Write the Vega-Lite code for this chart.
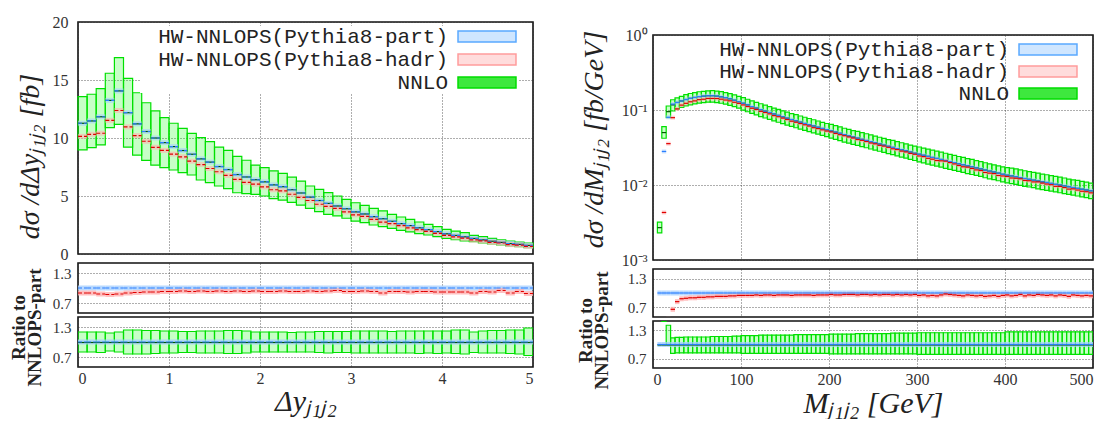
{
"$schema":"https://vega.github.io/schema/vega-lite/v6.json",
"padding":{"left":8,"top":13,"right":4,"bottom":0},
"autosize":{"type":"pad"},
"background":"white",
"config":{
 "view":{"stroke":"#111","strokeWidth":1.6},
 "axis":{"gridColor":"#333","gridDash":[1,2],"gridWidth":0.8,"labelFont":"Liberation Serif","labelFontSize":16,"labelColor":"#333","labelSeparation":-8,"titleFont":"Liberation Serif","titleFontStyle":"italic","titleFontWeight":"normal","titleFontSize":28,"titleColor":"#222","ticks":false,"domain":false}
},
"datasets":{
"leg":[{"s":"HW-NNLOPS(Pythia8-part)"},{"s":"HW-NNLOPS(Pythia8-hadr)"},{"s":"NNLO"}],
"L":[
{"x0":0,"x1":0.1,"lo":8.97,"hi":13.56,"p":11.27,"c":11.27,"h":10.14,"rh":0.9,"rlo":0.8,"rhi":1.2},
{"x0":0.1,"x1":0.2,"lo":9.17,"hi":13.77,"p":11.47,"c":11.47,"h":10.32,"rh":0.9,"rlo":0.8,"rhi":1.2},
{"x0":0.2,"x1":0.3,"lo":9.4,"hi":14.25,"p":11.83,"c":11.83,"h":10.41,"rh":0.88,"rlo":0.79,"rhi":1.2},
{"x0":0.3,"x1":0.4,"lo":10.89,"hi":15.58,"p":13.24,"c":13.24,"h":11.52,"rh":0.87,"rlo":0.82,"rhi":1.18},
{"x0":0.4,"x1":0.5,"lo":11.18,"hi":16.93,"p":14.06,"c":14.06,"h":12.37,"rh":0.88,"rlo":0.8,"rhi":1.2},
{"x0":0.5,"x1":0.6,"lo":9.22,"hi":15.14,"p":12.18,"c":12.18,"h":10.96,"rh":0.9,"rlo":0.76,"rhi":1.24},
{"x0":0.6,"x1":0.7,"lo":8.53,"hi":13.9,"p":11.22,"c":11.22,"h":10.21,"rh":0.91,"rlo":0.76,"rhi":1.24},
{"x0":0.7,"x1":0.8,"lo":8.07,"hi":13.04,"p":10.56,"c":10.56,"h":9.72,"rh":0.92,"rlo":0.76,"rhi":1.23},
{"x0":0.8,"x1":0.9,"lo":7.67,"hi":12.33,"p":10.0,"c":10.0,"h":9.2,"rh":0.92,"rlo":0.77,"rhi":1.23},
{"x0":0.9,"x1":1.0,"lo":7.44,"hi":11.75,"p":9.6,"c":9.6,"h":8.93,"rh":0.93,"rlo":0.78,"rhi":1.22},
{"x0":1.0,"x1":1.1,"lo":7.24,"hi":11.27,"p":9.26,"c":9.26,"h":8.61,"rh":0.93,"rlo":0.78,"rhi":1.22},
{"x0":1.1,"x1":1.2,"lo":7.01,"hi":10.83,"p":8.92,"c":8.92,"h":8.38,"rh":0.94,"rlo":0.79,"rhi":1.21},
{"x0":1.2,"x1":1.3,"lo":6.81,"hi":10.4,"p":8.6,"c":8.6,"h":8.0,"rh":0.93,"rlo":0.79,"rhi":1.21},
{"x0":1.3,"x1":1.4,"lo":6.38,"hi":10.03,"p":8.2,"c":8.2,"h":7.71,"rh":0.94,"rlo":0.78,"rhi":1.22},
{"x0":1.4,"x1":1.5,"lo":6.15,"hi":9.68,"p":7.92,"c":7.92,"h":7.37,"rh":0.93,"rlo":0.78,"rhi":1.22},
{"x0":1.5,"x1":1.6,"lo":5.86,"hi":9.22,"p":7.54,"c":7.54,"h":7.09,"rh":0.94,"rlo":0.78,"rhi":1.22},
{"x0":1.6,"x1":1.7,"lo":5.63,"hi":8.94,"p":7.28,"c":7.28,"h":6.77,"rh":0.93,"rlo":0.77,"rhi":1.23},
{"x0":1.7,"x1":1.8,"lo":5.28,"hi":8.42,"p":6.85,"c":6.85,"h":6.44,"rh":0.94,"rlo":0.77,"rhi":1.23},
{"x0":1.8,"x1":1.9,"lo":5.2,"hi":8.08,"p":6.64,"c":6.64,"h":6.18,"rh":0.93,"rlo":0.78,"rhi":1.22},
{"x0":1.9,"x1":2.0,"lo":5.14,"hi":7.67,"p":6.4,"c":6.4,"h":6.02,"rh":0.94,"rlo":0.8,"rhi":1.2},
{"x0":2.0,"x1":2.1,"lo":5.0,"hi":7.44,"p":6.22,"c":6.22,"h":5.78,"rh":0.93,"rlo":0.8,"rhi":1.2},
{"x0":2.1,"x1":2.2,"lo":4.77,"hi":7.16,"p":5.96,"c":5.96,"h":5.54,"rh":0.93,"rlo":0.8,"rhi":1.2},
{"x0":2.2,"x1":2.3,"lo":4.65,"hi":6.95,"p":5.8,"c":5.8,"h":5.45,"rh":0.94,"rlo":0.8,"rhi":1.2},
{"x0":2.3,"x1":2.4,"lo":4.45,"hi":6.62,"p":5.54,"c":5.54,"h":5.15,"rh":0.93,"rlo":0.8,"rhi":1.19},
{"x0":2.4,"x1":2.5,"lo":4.22,"hi":6.29,"p":5.26,"c":5.26,"h":4.89,"rh":0.93,"rlo":0.8,"rhi":1.2},
{"x0":2.5,"x1":2.6,"lo":3.94,"hi":5.86,"p":4.9,"c":4.9,"h":4.61,"rh":0.94,"rlo":0.8,"rhi":1.2},
{"x0":2.6,"x1":2.7,"lo":3.65,"hi":5.57,"p":4.61,"c":4.61,"h":4.29,"rh":0.93,"rlo":0.79,"rhi":1.21},
{"x0":2.7,"x1":2.8,"lo":3.42,"hi":5.29,"p":4.36,"c":4.36,"h":4.1,"rh":0.94,"rlo":0.78,"rhi":1.21},
{"x0":2.8,"x1":2.9,"lo":3.28,"hi":5.0,"p":4.14,"c":4.14,"h":3.93,"rh":0.95,"rlo":0.79,"rhi":1.21},
{"x0":2.9,"x1":3.0,"lo":3.08,"hi":4.71,"p":3.9,"c":3.9,"h":3.63,"rh":0.93,"rlo":0.79,"rhi":1.21},
{"x0":3.0,"x1":3.1,"lo":2.84,"hi":4.42,"p":3.63,"c":3.63,"h":3.38,"rh":0.93,"rlo":0.78,"rhi":1.22},
{"x0":3.1,"x1":3.2,"lo":2.7,"hi":4.2,"p":3.45,"c":3.45,"h":3.24,"rh":0.94,"rlo":0.78,"rhi":1.22},
{"x0":3.2,"x1":3.3,"lo":2.5,"hi":3.94,"p":3.22,"c":3.22,"h":2.99,"rh":0.93,"rlo":0.78,"rhi":1.22},
{"x0":3.3,"x1":3.4,"lo":2.36,"hi":3.71,"p":3.04,"c":3.04,"h":2.74,"rh":0.9,"rlo":0.78,"rhi":1.22},
{"x0":3.4,"x1":3.5,"lo":2.21,"hi":3.42,"p":2.82,"c":2.82,"h":2.62,"rh":0.93,"rlo":0.78,"rhi":1.21},
{"x0":3.5,"x1":3.6,"lo":2.04,"hi":3.19,"p":2.62,"c":2.62,"h":2.44,"rh":0.93,"rlo":0.78,"rhi":1.22},
{"x0":3.6,"x1":3.7,"lo":1.9,"hi":2.99,"p":2.45,"c":2.45,"h":2.25,"rh":0.92,"rlo":0.78,"rhi":1.22},
{"x0":3.7,"x1":3.8,"lo":1.75,"hi":2.76,"p":2.26,"c":2.26,"h":2.1,"rh":0.93,"rlo":0.77,"rhi":1.22},
{"x0":3.8,"x1":3.9,"lo":1.64,"hi":2.56,"p":2.1,"c":2.1,"h":1.95,"rh":0.93,"rlo":0.78,"rhi":1.22},
{"x0":3.9,"x1":4.0,"lo":1.49,"hi":2.36,"p":1.93,"c":1.93,"h":1.78,"rh":0.92,"rlo":0.77,"rhi":1.22},
{"x0":4.0,"x1":4.1,"lo":1.35,"hi":2.13,"p":1.74,"c":1.74,"h":1.6,"rh":0.92,"rlo":0.78,"rhi":1.22},
{"x0":4.1,"x1":4.2,"lo":1.23,"hi":1.98,"p":1.6,"c":1.6,"h":1.47,"rh":0.92,"rlo":0.77,"rhi":1.24},
{"x0":4.2,"x1":4.3,"lo":1.12,"hi":1.84,"p":1.48,"c":1.48,"h":1.36,"rh":0.92,"rlo":0.76,"rhi":1.24},
{"x0":4.3,"x1":4.4,"lo":1.06,"hi":1.61,"p":1.34,"c":1.34,"h":1.21,"rh":0.9,"rlo":0.79,"rhi":1.2},
{"x0":4.4,"x1":4.5,"lo":0.95,"hi":1.49,"p":1.22,"c":1.22,"h":1.13,"rh":0.93,"rlo":0.78,"rhi":1.22},
{"x0":4.5,"x1":4.6,"lo":0.86,"hi":1.35,"p":1.1,"c":1.1,"h":1.01,"rh":0.92,"rlo":0.78,"rhi":1.23},
{"x0":4.6,"x1":4.7,"lo":0.78,"hi":1.23,"p":1.0,"c":1.0,"h":0.95,"rh":0.95,"rlo":0.78,"rhi":1.23},
{"x0":4.7,"x1":4.8,"lo":0.69,"hi":1.12,"p":0.9,"c":0.9,"h":0.81,"rh":0.9,"rlo":0.77,"rhi":1.24},
{"x0":4.8,"x1":4.9,"lo":0.63,"hi":1.03,"p":0.83,"c":0.83,"h":0.77,"rh":0.93,"rlo":0.76,"rhi":1.24},
{"x0":4.9,"x1":5.0,"lo":0.54,"hi":0.95,"p":0.74,"c":0.74,"h":0.66,"rh":0.89,"rlo":0.73,"rhi":1.28}
],
"R":[
{"x0":5,"x1":10,"p":0.0008,"c":0.0027,"lo":0.0023,"hi":0.0032},
{"x0":10,"x1":15,"p":0.028,"c":0.05,"h":0.0043,"lo":0.042,"hi":0.06,"rh":0.15,"rlo":1.49,"rhi":2.1},
{"x0":15,"x1":20,"p":0.08,"c":0.095,"h":0.0356,"lo":0.079,"hi":0.113,"rh":0.45,"rlo":0.99,"rhi":1.41},
{"x0":20,"x1":25,"p":0.12,"c":0.117,"h":0.079,"lo":0.097,"hi":0.137,"rh":0.66,"rlo":0.81,"rhi":1.14},
{"x0":25,"x1":30,"p":0.126,"c":0.126,"h":0.1033,"lo":0.1033,"hi":0.1449,"rh":0.82,"rlo":0.82,"rhi":1.15},
{"x0":30,"x1":35,"p":0.132,"c":0.132,"h":0.1162,"lo":0.1082,"hi":0.1518,"rh":0.88,"rlo":0.82,"rhi":1.15},
{"x0":35,"x1":40,"p":0.138,"c":0.138,"h":0.1228,"lo":0.1132,"hi":0.1601,"rh":0.89,"rlo":0.82,"rhi":1.16},
{"x0":40,"x1":45,"p":0.143,"c":0.143,"h":0.1287,"lo":0.1173,"hi":0.1659,"rh":0.9,"rlo":0.82,"rhi":1.16},
{"x0":45,"x1":50,"p":0.147,"c":0.147,"h":0.1323,"lo":0.1205,"hi":0.1705,"rh":0.9,"rlo":0.82,"rhi":1.16},
{"x0":50,"x1":55,"p":0.151,"c":0.151,"h":0.1374,"lo":0.1238,"hi":0.1752,"rh":0.91,"rlo":0.82,"rhi":1.16},
{"x0":55,"x1":60,"p":0.153,"c":0.153,"h":0.1392,"lo":0.1255,"hi":0.1775,"rh":0.91,"rlo":0.82,"rhi":1.16},
{"x0":60,"x1":65,"p":0.155,"c":0.155,"h":0.1426,"lo":0.1271,"hi":0.1798,"rh":0.92,"rlo":0.82,"rhi":1.16},
{"x0":65,"x1":70,"p":0.155,"c":0.155,"h":0.1426,"lo":0.1271,"hi":0.1814,"rh":0.92,"rlo":0.82,"rhi":1.17},
{"x0":70,"x1":75,"p":0.153,"c":0.153,"h":0.1423,"lo":0.1255,"hi":0.179,"rh":0.93,"rlo":0.82,"rhi":1.17},
{"x0":75,"x1":80,"p":0.15,"c":0.15,"h":0.1395,"lo":0.123,"hi":0.1755,"rh":0.93,"rlo":0.82,"rhi":1.17},
{"x0":80,"x1":85,"p":0.146,"c":0.146,"h":0.1358,"lo":0.1197,"hi":0.1708,"rh":0.93,"rlo":0.82,"rhi":1.17},
{"x0":85,"x1":90,"p":0.141,"c":0.141,"h":0.1325,"lo":0.1156,"hi":0.165,"rh":0.94,"rlo":0.82,"rhi":1.17},
{"x0":90,"x1":95,"p":0.135,"c":0.135,"h":0.1269,"lo":0.1107,"hi":0.1593,"rh":0.94,"rlo":0.82,"rhi":1.18},
{"x0":95,"x1":100,"p":0.129,"c":0.129,"h":0.1226,"lo":0.1058,"hi":0.1522,"rh":0.95,"rlo":0.82,"rhi":1.18},
{"x0":100,"x1":105,"p":0.123,"c":0.123,"h":0.1169,"lo":0.0996,"hi":0.1464,"rh":0.95,"rlo":0.81,"rhi":1.19},
{"x0":105,"x1":110,"p":0.117,"c":0.117,"h":0.1112,"lo":0.0948,"hi":0.1392,"rh":0.95,"rlo":0.81,"rhi":1.19},
{"x0":110,"x1":115,"p":0.111,"c":0.111,"h":0.1055,"lo":0.0899,"hi":0.1321,"rh":0.95,"rlo":0.81,"rhi":1.19},
{"x0":115,"x1":120,"p":0.106,"c":0.106,"h":0.1018,"lo":0.0859,"hi":0.1261,"rh":0.96,"rlo":0.81,"rhi":1.19},
{"x0":120,"x1":125,"p":0.101,"c":0.101,"h":0.096,"lo":0.0818,"hi":0.1212,"rh":0.95,"rlo":0.81,"rhi":1.2},
{"x0":125,"x1":130,"p":0.0965,"c":0.0965,"h":0.0926,"lo":0.0782,"hi":0.1158,"rh":0.96,"rlo":0.81,"rhi":1.2},
{"x0":130,"x1":135,"p":0.0925,"c":0.0925,"h":0.0888,"lo":0.0749,"hi":0.111,"rh":0.96,"rlo":0.81,"rhi":1.2},
{"x0":135,"x1":140,"p":0.0885,"c":0.0885,"h":0.0841,"lo":0.0717,"hi":0.1062,"rh":0.95,"rlo":0.81,"rhi":1.2},
{"x0":140,"x1":145,"p":0.0848,"c":0.0848,"h":0.0814,"lo":0.0687,"hi":0.1018,"rh":0.96,"rlo":0.81,"rhi":1.2},
{"x0":145,"x1":150,"p":0.0812,"c":0.0812,"h":0.078,"lo":0.0658,"hi":0.0974,"rh":0.96,"rlo":0.81,"rhi":1.2},
{"x0":150,"x1":155,"p":0.0778,"c":0.0778,"h":0.0747,"lo":0.063,"hi":0.0934,"rh":0.96,"rlo":0.81,"rhi":1.2},
{"x0":155,"x1":160,"p":0.0746,"c":0.0746,"h":0.0709,"lo":0.0604,"hi":0.0895,"rh":0.95,"rlo":0.81,"rhi":1.2},
{"x0":160,"x1":165,"p":0.0716,"c":0.0716,"h":0.0687,"lo":0.058,"hi":0.0866,"rh":0.96,"rlo":0.81,"rhi":1.21},
{"x0":165,"x1":170,"p":0.0688,"c":0.0688,"h":0.066,"lo":0.0557,"hi":0.0832,"rh":0.96,"rlo":0.81,"rhi":1.21},
{"x0":170,"x1":175,"p":0.0661,"c":0.0661,"h":0.0635,"lo":0.0535,"hi":0.08,"rh":0.96,"rlo":0.81,"rhi":1.21},
{"x0":175,"x1":180,"p":0.0636,"c":0.0636,"h":0.0611,"lo":0.0515,"hi":0.077,"rh":0.96,"rlo":0.81,"rhi":1.21},
{"x0":180,"x1":185,"p":0.0612,"c":0.0612,"h":0.0581,"lo":0.0496,"hi":0.0741,"rh":0.95,"rlo":0.81,"rhi":1.21},
{"x0":185,"x1":190,"p":0.0589,"c":0.0589,"h":0.0565,"lo":0.0477,"hi":0.0713,"rh":0.96,"rlo":0.81,"rhi":1.21},
{"x0":190,"x1":195,"p":0.0567,"c":0.0567,"h":0.0544,"lo":0.0459,"hi":0.0686,"rh":0.96,"rlo":0.81,"rhi":1.21},
{"x0":195,"x1":200,"p":0.0546,"c":0.0546,"h":0.0524,"lo":0.0442,"hi":0.0661,"rh":0.96,"rlo":0.81,"rhi":1.21},
{"x0":200,"x1":205,"p":0.0526,"c":0.0526,"h":0.051,"lo":0.0421,"hi":0.0642,"rh":0.97,"rlo":0.8,"rhi":1.22},
{"x0":205,"x1":210,"p":0.0507,"c":0.0507,"h":0.0487,"lo":0.0406,"hi":0.0619,"rh":0.96,"rlo":0.8,"rhi":1.22},
{"x0":210,"x1":215,"p":0.0489,"c":0.0489,"h":0.0469,"lo":0.0391,"hi":0.0597,"rh":0.96,"rlo":0.8,"rhi":1.22},
{"x0":215,"x1":220,"p":0.0468,"c":0.0468,"h":0.0454,"lo":0.0374,"hi":0.0571,"rh":0.97,"rlo":0.8,"rhi":1.22},
{"x0":220,"x1":225,"p":0.0451,"c":0.0451,"h":0.0437,"lo":0.0361,"hi":0.055,"rh":0.97,"rlo":0.8,"rhi":1.22},
{"x0":225,"x1":230,"p":0.0436,"c":0.0436,"h":0.0423,"lo":0.0349,"hi":0.0532,"rh":0.97,"rlo":0.8,"rhi":1.22},
{"x0":230,"x1":235,"p":0.0421,"c":0.0421,"h":0.0404,"lo":0.0337,"hi":0.0518,"rh":0.96,"rlo":0.8,"rhi":1.23},
{"x0":235,"x1":240,"p":0.0406,"c":0.0406,"h":0.0394,"lo":0.0325,"hi":0.0499,"rh":0.97,"rlo":0.8,"rhi":1.23},
{"x0":240,"x1":245,"p":0.0392,"c":0.0392,"h":0.038,"lo":0.0314,"hi":0.0482,"rh":0.97,"rlo":0.8,"rhi":1.23},
{"x0":245,"x1":250,"p":0.0378,"c":0.0378,"h":0.0363,"lo":0.0302,"hi":0.0465,"rh":0.96,"rlo":0.8,"rhi":1.23},
{"x0":250,"x1":255,"p":0.0365,"c":0.0365,"h":0.0354,"lo":0.0292,"hi":0.0449,"rh":0.97,"rlo":0.8,"rhi":1.23},
{"x0":255,"x1":260,"p":0.0352,"c":0.0352,"h":0.0338,"lo":0.0282,"hi":0.0433,"rh":0.96,"rlo":0.8,"rhi":1.23},
{"x0":260,"x1":265,"p":0.034,"c":0.034,"h":0.033,"lo":0.0272,"hi":0.0418,"rh":0.97,"rlo":0.8,"rhi":1.23},
{"x0":265,"x1":270,"p":0.0328,"c":0.0328,"h":0.0318,"lo":0.0262,"hi":0.0403,"rh":0.97,"rlo":0.8,"rhi":1.23},
{"x0":270,"x1":275,"p":0.0317,"c":0.0317,"h":0.0304,"lo":0.0254,"hi":0.0393,"rh":0.96,"rlo":0.8,"rhi":1.24},
{"x0":275,"x1":280,"p":0.0306,"c":0.0306,"h":0.0297,"lo":0.0245,"hi":0.0379,"rh":0.97,"rlo":0.8,"rhi":1.24},
{"x0":280,"x1":285,"p":0.0295,"c":0.0295,"h":0.0283,"lo":0.0236,"hi":0.0366,"rh":0.96,"rlo":0.8,"rhi":1.24},
{"x0":285,"x1":290,"p":0.0285,"c":0.0285,"h":0.0276,"lo":0.0228,"hi":0.0353,"rh":0.97,"rlo":0.8,"rhi":1.24},
{"x0":290,"x1":295,"p":0.0275,"c":0.0275,"h":0.0264,"lo":0.022,"hi":0.0341,"rh":0.96,"rlo":0.8,"rhi":1.24},
{"x0":295,"x1":300,"p":0.0265,"c":0.0265,"h":0.0257,"lo":0.0212,"hi":0.0329,"rh":0.97,"rlo":0.8,"rhi":1.24},
{"x0":300,"x1":305,"p":0.0257,"c":0.0257,"h":0.0244,"lo":0.0203,"hi":0.0321,"rh":0.95,"rlo":0.79,"rhi":1.25},
{"x0":305,"x1":310,"p":0.0249,"c":0.0249,"h":0.0239,"lo":0.0197,"hi":0.0311,"rh":0.96,"rlo":0.79,"rhi":1.25},
{"x0":310,"x1":315,"p":0.0241,"c":0.0241,"h":0.0227,"lo":0.019,"hi":0.0301,"rh":0.94,"rlo":0.79,"rhi":1.25},
{"x0":315,"x1":320,"p":0.0233,"c":0.0233,"h":0.0221,"lo":0.0184,"hi":0.0291,"rh":0.95,"rlo":0.79,"rhi":1.25},
{"x0":320,"x1":325,"p":0.0226,"c":0.0226,"h":0.0212,"lo":0.0179,"hi":0.0283,"rh":0.94,"rlo":0.79,"rhi":1.25},
{"x0":325,"x1":330,"p":0.0219,"c":0.0219,"h":0.021,"lo":0.0173,"hi":0.0274,"rh":0.96,"rlo":0.79,"rhi":1.25},
{"x0":330,"x1":335,"p":0.0212,"c":0.0212,"h":0.0208,"lo":0.0167,"hi":0.0265,"rh":0.98,"rlo":0.79,"rhi":1.25},
{"x0":335,"x1":340,"p":0.0205,"c":0.0205,"h":0.0199,"lo":0.0162,"hi":0.0256,"rh":0.97,"rlo":0.79,"rhi":1.25},
{"x0":340,"x1":345,"p":0.0199,"c":0.0199,"h":0.0191,"lo":0.0157,"hi":0.0249,"rh":0.96,"rlo":0.79,"rhi":1.25},
{"x0":345,"x1":350,"p":0.0192,"c":0.0192,"h":0.0182,"lo":0.0152,"hi":0.024,"rh":0.95,"rlo":0.79,"rhi":1.25},
{"x0":350,"x1":355,"p":0.0186,"c":0.0186,"h":0.0175,"lo":0.0147,"hi":0.0233,"rh":0.94,"rlo":0.79,"rhi":1.25},
{"x0":355,"x1":360,"p":0.018,"c":0.018,"h":0.0173,"lo":0.0142,"hi":0.0225,"rh":0.96,"rlo":0.79,"rhi":1.25},
{"x0":360,"x1":365,"p":0.0175,"c":0.0175,"h":0.0166,"lo":0.0138,"hi":0.0219,"rh":0.95,"rlo":0.79,"rhi":1.25},
{"x0":365,"x1":370,"p":0.0169,"c":0.0169,"h":0.0159,"lo":0.0134,"hi":0.0211,"rh":0.94,"rlo":0.79,"rhi":1.25},
{"x0":370,"x1":375,"p":0.0164,"c":0.0164,"h":0.0156,"lo":0.013,"hi":0.0205,"rh":0.95,"rlo":0.79,"rhi":1.25},
{"x0":375,"x1":380,"p":0.0158,"c":0.0158,"h":0.0147,"lo":0.0125,"hi":0.0198,"rh":0.93,"rlo":0.79,"rhi":1.25},
{"x0":380,"x1":385,"p":0.0153,"c":0.0153,"h":0.0144,"lo":0.0121,"hi":0.0191,"rh":0.94,"rlo":0.79,"rhi":1.25},
{"x0":385,"x1":390,"p":0.0149,"c":0.0149,"h":0.0142,"lo":0.0118,"hi":0.0186,"rh":0.95,"rlo":0.79,"rhi":1.25},
{"x0":390,"x1":395,"p":0.0144,"c":0.0144,"h":0.0134,"lo":0.0114,"hi":0.018,"rh":0.93,"rlo":0.79,"rhi":1.25},
{"x0":395,"x1":400,"p":0.0139,"c":0.0139,"h":0.0132,"lo":0.011,"hi":0.0174,"rh":0.95,"rlo":0.79,"rhi":1.25},
{"x0":400,"x1":405,"p":0.0135,"c":0.0135,"h":0.013,"lo":0.0107,"hi":0.0171,"rh":0.96,"rlo":0.79,"rhi":1.27},
{"x0":405,"x1":410,"p":0.0132,"c":0.0132,"h":0.0124,"lo":0.0104,"hi":0.0168,"rh":0.94,"rlo":0.79,"rhi":1.27},
{"x0":410,"x1":415,"p":0.0129,"c":0.0129,"h":0.0123,"lo":0.0102,"hi":0.0164,"rh":0.95,"rlo":0.79,"rhi":1.27},
{"x0":415,"x1":420,"p":0.0125,"c":0.0125,"h":0.0121,"lo":0.0099,"hi":0.0159,"rh":0.97,"rlo":0.79,"rhi":1.27},
{"x0":420,"x1":425,"p":0.0122,"c":0.0122,"h":0.0115,"lo":0.0096,"hi":0.0155,"rh":0.94,"rlo":0.79,"rhi":1.27},
{"x0":425,"x1":430,"p":0.0119,"c":0.0119,"h":0.0114,"lo":0.0094,"hi":0.0151,"rh":0.96,"rlo":0.79,"rhi":1.27},
{"x0":430,"x1":435,"p":0.0116,"c":0.0116,"h":0.011,"lo":0.0092,"hi":0.0147,"rh":0.95,"rlo":0.79,"rhi":1.27},
{"x0":435,"x1":440,"p":0.0113,"c":0.0113,"h":0.011,"lo":0.0089,"hi":0.0144,"rh":0.97,"rlo":0.79,"rhi":1.27},
{"x0":440,"x1":445,"p":0.011,"c":0.011,"h":0.0106,"lo":0.0087,"hi":0.014,"rh":0.96,"rlo":0.79,"rhi":1.27},
{"x0":445,"x1":450,"p":0.0108,"c":0.0108,"h":0.0103,"lo":0.0085,"hi":0.0137,"rh":0.95,"rlo":0.79,"rhi":1.27},
{"x0":450,"x1":455,"p":0.0105,"c":0.0105,"h":0.0101,"lo":0.0083,"hi":0.0133,"rh":0.96,"rlo":0.79,"rhi":1.27},
{"x0":455,"x1":460,"p":0.0102,"c":0.0102,"h":0.0096,"lo":0.0081,"hi":0.013,"rh":0.94,"rlo":0.79,"rhi":1.27},
{"x0":460,"x1":465,"p":0.00998,"c":0.00998,"h":0.00958,"lo":0.00788,"hi":0.0127,"rh":0.96,"rlo":0.79,"rhi":1.27},
{"x0":465,"x1":470,"p":0.00973,"c":0.00973,"h":0.00924,"lo":0.00769,"hi":0.0124,"rh":0.95,"rlo":0.79,"rhi":1.27},
{"x0":470,"x1":475,"p":0.00948,"c":0.00948,"h":0.00882,"lo":0.00749,"hi":0.012,"rh":0.93,"rlo":0.79,"rhi":1.27},
{"x0":475,"x1":480,"p":0.00925,"c":0.00925,"h":0.00888,"lo":0.00731,"hi":0.0117,"rh":0.96,"rlo":0.79,"rhi":1.27},
{"x0":480,"x1":485,"p":0.00902,"c":0.00902,"h":0.00857,"lo":0.00713,"hi":0.0115,"rh":0.95,"rlo":0.79,"rhi":1.27},
{"x0":485,"x1":490,"p":0.00879,"c":0.00879,"h":0.00826,"lo":0.00694,"hi":0.0112,"rh":0.94,"rlo":0.79,"rhi":1.27},
{"x0":490,"x1":495,"p":0.00857,"c":0.00857,"h":0.00814,"lo":0.00677,"hi":0.0109,"rh":0.95,"rlo":0.79,"rhi":1.27},
{"x0":495,"x1":500,"p":0.00836,"c":0.00836,"h":0.00786,"lo":0.0066,"hi":0.0106,"rh":0.94,"rlo":0.79,"rhi":1.27}
]
},
"resolve":{"scale":{"fill":"independent","stroke":"independent"},"legend":{"fill":"independent","stroke":"independent"}},
"columns":2,
"align":"none",
"spacing":38,
"concat":[
{
 "spacing":-2,
 "resolve":{"scale":{"fill":"independent","stroke":"independent"},"legend":{"fill":"independent","stroke":"independent"}},
 "vconcat":[
  {
   "width":455,"height":232,
   "layer":[
    {"data":{"name":"L"},"mark":{"type":"rect","fill":"#00ff00","fillOpacity":0.22,"stroke":"#00e000","strokeWidth":1.2},
     "encoding":{"x":{"field":"x0","type":"quantitative","scale":{"domain":[0,5],"nice":false},"axis":{"values":[0,1,2,3,4,5],"labels":false,"title":null,"grid":true}},"x2":{"field":"x1"},
      "y":{"field":"lo","type":"quantitative","scale":{"domain":[0,20],"nice":false},"axis":{"values":[0,5,10,15,20],"grid":true,"labelPadding":10,"title":"dσ /dΔyⱼ₁ⱼ₂ [fb]","titlePadding":8,"titleY":134}},"y2":{"field":"hi"}}},
    {"data":{"name":"L"},"mark":{"type":"rule","color":"#a6cfff","strokeWidth":5,"opacity":0.6},"encoding":{"x":{"field":"x0","type":"quantitative"},"x2":{"field":"x1"},"y":{"field":"p","type":"quantitative"}}},
    {"data":{"name":"L"},"mark":{"type":"rule","color":"#ffb0b0","strokeWidth":5,"opacity":0.6},"encoding":{"x":{"field":"x0","type":"quantitative"},"x2":{"field":"x1"},"y":{"field":"h","type":"quantitative"}}},
    {"data":{"name":"L"},"mark":{"type":"rule","color":"#005a00","strokeWidth":1.2},"encoding":{"x":{"field":"x0","type":"quantitative"},"x2":{"field":"x1"},"y":{"field":"c","type":"quantitative"}}},
    {"data":{"name":"L"},"mark":{"type":"rule","color":"#2a7fff","strokeWidth":1.2,"strokeDash":[4,2]},"encoding":{"x":{"field":"x0","type":"quantitative"},"x2":{"field":"x1"},"y":{"field":"p","type":"quantitative"}}},
    {"data":{"name":"L"},"mark":{"type":"rule","color":"#e00000","strokeWidth":1.2,"strokeDash":[4,2]},"encoding":{"x":{"field":"x0","type":"quantitative"},"x2":{"field":"x1"},"y":{"field":"h","type":"quantitative"}}},
    {"data":{"name":"leg"},"mark":{"type":"point","shape":"M-5.27,-1H5.27V1H-5.27Z","size":121,"filled":true,"opacity":0},
     "encoding":{
      "fill":{"field":"s","type":"nominal","scale":{"domain":["HW-NNLOPS(Pythia8-part)","HW-NNLOPS(Pythia8-hadr)","NNLO"],"range":["#cfe6ff","#ffdcdc","#3ee83e"]},
       "legend":{"orient":"none","legendX":62,"legendY":4,"title":null,"labelFont":"Liberation Mono","labelFontSize":21,"labelColor":"#222","labelAlign":"right","labelOffset":-49.5,"labelLimit":400,"symbolOffset":336.5,"symbolSize":121,"symbolStrokeWidth":1.5,"symbolOpacity":1,"symbolFillColor":"#ffffff","rowPadding":1,"padding":0,"fillColor":"white","symbolType":"M-5.27,-1H5.27V1H-5.27Z"}},
      "stroke":{"field":"s","type":"nominal","scale":{"domain":["HW-NNLOPS(Pythia8-part)","HW-NNLOPS(Pythia8-hadr)","NNLO"],"range":["#5aa9ff","#ff9c9c","#00dd00"]},
       "legend":{"orient":"none","legendX":62,"legendY":4,"title":null,"labelFont":"Liberation Mono","labelFontSize":21,"labelColor":"#222","labelAlign":"right","labelOffset":-49.5,"labelLimit":400,"symbolOffset":336.5,"symbolSize":121,"symbolStrokeWidth":1.5,"symbolOpacity":1,"symbolFillColor":"#ffffff","rowPadding":1,"padding":0,"fillColor":"white","symbolType":"M-5.27,-1H5.27V1H-5.27Z"}}
     }}
   ]
  },
  {
   "spacing":4,
   "bounds":"flush",
   "vconcat":[
    {
     "width":455,"height":50,
     "layer":[
      {"data":{"name":"L"},"mark":{"type":"rule","color":"#a6cfff","strokeWidth":5,"opacity":0.8,"clip":true},"encoding":{"x":{"field":"x0","type":"quantitative","scale":{"domain":[0,5],"nice":false},"axis":{"values":[0,1,2,3,4,5],"labels":false,"title":null,"grid":true}},"x2":{"field":"x1"},"y":{"datum":1,"type":"quantitative","scale":{"domain":[0.5,1.5],"nice":false},"axis":{"values":[0.7,1.0,1.3],"format":".1f","labelSeparation":-8,"labelFontSize":15,"grid":true,"labelPadding":7,"title":["Ratio to","NNLOPS-part"],"titleFontStyle":"normal","titleFontWeight":"bold","titleFontSize":19,"titleLineHeight":16,"titleAngle":270,"titleAlign":"center","titleBaseline":"middle","titleX":-60,"titleY":64}}}},
      {"data":{"name":"L"},"mark":{"type":"rule","color":"#ffb0b0","strokeWidth":5,"opacity":0.8,"clip":true},"encoding":{"x":{"field":"x0","type":"quantitative"},"x2":{"field":"x1"},"y":{"field":"rh","type":"quantitative"}}},
      {"data":{"name":"L"},"mark":{"type":"rule","color":"#2a7fff","strokeWidth":1.2,"strokeDash":[4,2],"clip":true},"encoding":{"x":{"field":"x0","type":"quantitative"},"x2":{"field":"x1"},"y":{"datum":1,"type":"quantitative"}}},
      {"data":{"name":"L"},"mark":{"type":"rule","color":"#e00000","strokeWidth":1.2,"strokeDash":[4,2],"clip":true},"encoding":{"x":{"field":"x0","type":"quantitative"},"x2":{"field":"x1"},"y":{"field":"rh","type":"quantitative"}}}
     ]
    },
    {
     "width":455,"height":50,
     "layer":[
      {"data":{"name":"L"},"mark":{"type":"rect","fill":"#00ff00","fillOpacity":0.22,"stroke":"#00e000","strokeWidth":1.2,"clip":true},"encoding":{"x":{"field":"x0","type":"quantitative","scale":{"domain":[0,5],"nice":false},"axis":{"values":[0,1,2,3,4,5],"format":"d","grid":true,"labelPadding":3,"title":"Δyⱼ₁ⱼ₂","titleFontSize":30,"titlePadding":0}},"x2":{"field":"x1"},"y":{"field":"rlo","type":"quantitative","scale":{"domain":[0.5,1.5],"nice":false},"axis":{"values":[0.7,1.0,1.3],"format":".1f","labelSeparation":-8,"labelFontSize":15,"grid":true,"labelPadding":7,"title":null}},"y2":{"field":"rhi"}}},
      {"data":{"name":"L"},"mark":{"type":"rule","color":"#a6cfff","strokeWidth":5,"opacity":0.8,"clip":true},"encoding":{"x":{"field":"x0","type":"quantitative"},"x2":{"field":"x1"},"y":{"datum":1,"type":"quantitative"}}},
      {"data":{"name":"L"},"mark":{"type":"rule","color":"#005a00","strokeWidth":1.2,"clip":true},"encoding":{"x":{"field":"x0","type":"quantitative"},"x2":{"field":"x1"},"y":{"datum":0.99,"type":"quantitative"}}},
      {"data":{"name":"L"},"mark":{"type":"rule","color":"#2a7fff","strokeWidth":1.2,"strokeDash":[4,2],"clip":true},"encoding":{"x":{"field":"x0","type":"quantitative"},"x2":{"field":"x1"},"y":{"datum":1,"type":"quantitative"}}}
     ]
    }
   ]
  }
 ]
},
{
 "spacing":3,
 "resolve":{"scale":{"fill":"independent","stroke":"independent"},"legend":{"fill":"independent","stroke":"independent"}},
 "vconcat":[
  {"width":440,"height":1,"data":{"values":[]},"mark":{"type":"point"},"encoding":{},"view":{"stroke":null}},
  {
   "spacing":-1,
   "resolve":{"scale":{"fill":"independent","stroke":"independent"},"legend":{"fill":"independent","stroke":"independent"}},
   "vconcat":[
  {
   "width":440,"height":225,
   "layer":[
    {"data":{"name":"R"},"mark":{"type":"rect","fill":"#00ff00","fillOpacity":0.22,"stroke":"#00e000","strokeWidth":1.2,"clip":true},
     "encoding":{"x":{"field":"x0","type":"quantitative","scale":{"domain":[0,500],"nice":false},"axis":{"values":[0,100,200,300,400,500],"labels":false,"title":null,"grid":true}},"x2":{"field":"x1"},
      "y":{"field":"lo","type":"quantitative","scale":{"type":"log","domain":[0.001,1],"nice":false},"axis":{"values":[0.001,0.01,0.1,1],"labelExpr":"datum.value==1?'10⁰':datum.value==0.1?'10⁻¹':datum.value==0.01?'10⁻²':'10⁻³'","grid":true,"labelPadding":6,"title":"dσ /dMⱼ₁ⱼ₂ [fb/GeV]","titlePadding":13,"titleY":104}},"y2":{"field":"hi"}}},
    {"data":{"name":"R"},"mark":{"type":"rule","color":"#a6cfff","strokeWidth":4,"opacity":0.6,"clip":true},"encoding":{"x":{"field":"x0","type":"quantitative"},"x2":{"field":"x1"},"y":{"field":"p","type":"quantitative"}}},
    {"data":{"name":"R"},"mark":{"type":"rule","color":"#ffb0b0","strokeWidth":4,"opacity":0.6,"clip":true},"encoding":{"x":{"field":"x0","type":"quantitative"},"x2":{"field":"x1"},"y":{"field":"h","type":"quantitative"}}},
    {"data":{"name":"R"},"mark":{"type":"rule","color":"#005a00","strokeWidth":1.2,"clip":true},"encoding":{"x":{"field":"x0","type":"quantitative"},"x2":{"field":"x1"},"y":{"field":"c","type":"quantitative"}}},
    {"data":{"name":"R"},"mark":{"type":"rule","color":"#2a7fff","strokeWidth":1.2,"clip":true},"encoding":{"x":{"field":"x0","type":"quantitative"},"x2":{"field":"x1"},"y":{"field":"p","type":"quantitative"}}},
    {"data":{"name":"R"},"mark":{"type":"rule","color":"#e00000","strokeWidth":1.2,"clip":true},"encoding":{"x":{"field":"x0","type":"quantitative"},"x2":{"field":"x1"},"y":{"field":"h","type":"quantitative"}}},
    {"data":{"name":"leg"},"mark":{"type":"point","shape":"M-5.27,-1H5.27V1H-5.27Z","size":121,"filled":true,"opacity":0},
     "encoding":{
      "fill":{"field":"s","type":"nominal","scale":{"domain":["HW-NNLOPS(Pythia8-part)","HW-NNLOPS(Pythia8-hadr)","NNLO"],"range":["#cfe6ff","#ffdcdc","#3ee83e"]},
       "legend":{"orient":"none","legendX":48,"legendY":4,"title":null,"labelFont":"Liberation Mono","labelFontSize":21,"labelColor":"#222","labelAlign":"right","labelOffset":-49.5,"labelLimit":400,"symbolOffset":336.5,"symbolSize":121,"symbolStrokeWidth":1.5,"symbolOpacity":1,"symbolFillColor":"#ffffff","rowPadding":0,"padding":0,"symbolType":"M-5.27,-1H5.27V1H-5.27Z"}},
      "stroke":{"field":"s","type":"nominal","scale":{"domain":["HW-NNLOPS(Pythia8-part)","HW-NNLOPS(Pythia8-hadr)","NNLO"],"range":["#5aa9ff","#ff9c9c","#00dd00"]},
       "legend":{"orient":"none","legendX":48,"legendY":4,"title":null,"labelFont":"Liberation Mono","labelFontSize":21,"labelColor":"#222","labelAlign":"right","labelOffset":-49.5,"labelLimit":400,"symbolOffset":336.5,"symbolSize":121,"symbolStrokeWidth":1.5,"symbolOpacity":1,"symbolFillColor":"#ffffff","rowPadding":0,"padding":0,"symbolType":"M-5.27,-1H5.27V1H-5.27Z"}}
     }}
   ]
  },
  {
   "spacing":4,
   "bounds":"flush",
   "vconcat":[
    {
     "width":440,"height":48,
     "layer":[
      {"data":{"name":"R"},"mark":{"type":"rule","color":"#a6cfff","strokeWidth":5,"opacity":0.8,"clip":true},"encoding":{"x":{"field":"x0","type":"quantitative","scale":{"domain":[0,500],"nice":false},"axis":{"values":[0,100,200,300,400,500],"labels":false,"title":null,"grid":true}},"x2":{"field":"x1"},"y":{"datum":1,"type":"quantitative","scale":{"domain":[0.5,1.5],"nice":false},"axis":{"values":[0.7,1.0,1.3],"format":".1f","labelSeparation":-8,"labelFontSize":15,"grid":true,"labelPadding":7,"title":["Ratio to","NNLOPS-part"],"titleFontStyle":"normal","titleFontWeight":"bold","titleFontSize":19,"titleLineHeight":16,"titleAngle":270,"titleAlign":"center","titleBaseline":"middle","titleX":-68,"titleY":61}}}},
      {"data":{"name":"R"},"mark":{"type":"rule","color":"#ffb0b0","strokeWidth":5,"opacity":0.8,"clip":true},"encoding":{"x":{"field":"x0","type":"quantitative"},"x2":{"field":"x1"},"y":{"field":"rh","type":"quantitative"}}},
      {"data":{"name":"R"},"mark":{"type":"rule","color":"#2a7fff","strokeWidth":1.2,"clip":true},"encoding":{"x":{"field":"x0","type":"quantitative"},"x2":{"field":"x1"},"y":{"datum":1,"type":"quantitative"}}},
      {"data":{"name":"R"},"mark":{"type":"rule","color":"#e00000","strokeWidth":1.2,"clip":true},"encoding":{"x":{"field":"x0","type":"quantitative"},"x2":{"field":"x1"},"y":{"field":"rh","type":"quantitative"}}}
     ]
    },
    {
     "width":440,"height":47,
     "layer":[
      {"data":{"name":"R"},"mark":{"type":"rect","fill":"#00ff00","fillOpacity":0.22,"stroke":"#00e000","strokeWidth":1.2,"clip":true},"encoding":{"x":{"field":"x0","type":"quantitative","scale":{"domain":[0,500],"nice":false},"axis":{"values":[0,100,200,300,400,500],"format":"d","grid":true,"labelPadding":3,"title":"Mⱼ₁ⱼ₂ [GeV]","titleFontSize":30,"titlePadding":1}},"x2":{"field":"x1"},"y":{"field":"rlo","type":"quantitative","scale":{"domain":[0.5,1.5],"nice":false},"axis":{"values":[0.7,1.0,1.3],"format":".1f","labelSeparation":-8,"labelFontSize":15,"grid":true,"labelPadding":7,"title":null}},"y2":{"field":"rhi"}}},
      {"data":{"name":"R"},"mark":{"type":"rule","color":"#a6cfff","strokeWidth":5,"opacity":0.8,"clip":true},"encoding":{"x":{"field":"x0","type":"quantitative"},"x2":{"field":"x1"},"y":{"datum":1,"type":"quantitative"}}},
      {"data":{"name":"R"},"mark":{"type":"rule","color":"#005a00","strokeWidth":1.2,"clip":true},"encoding":{"x":{"field":"x0","type":"quantitative"},"x2":{"field":"x1"},"y":{"datum":0.99,"type":"quantitative"}}},
      {"data":{"name":"R"},"mark":{"type":"rule","color":"#2a7fff","strokeWidth":1.2,"clip":true},"encoding":{"x":{"field":"x0","type":"quantitative"},"x2":{"field":"x1"},"y":{"datum":1,"type":"quantitative"}}}
     ]
    }
   ]
  }
   ]
  }
 ]
}
]
}
